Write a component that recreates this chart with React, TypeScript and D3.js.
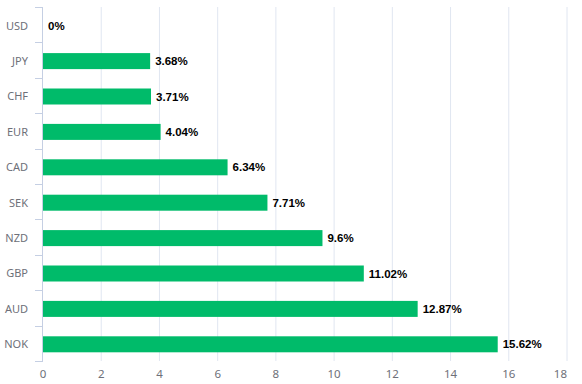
import React from "react";
import * as d3 from "d3";

const categories = ["USD", "JPY", "CHF", "EUR", "CAD", "SEK", "NZD", "GBP", "AUD", "NOK"];
const values = [0, 3.68, 3.71, 4.04, 6.34, 7.71, 9.6, 11.02, 12.87, 15.62];
const xTicks = [0, 2, 4, 6, 8, 10, 12, 14, 16, 18];

const W = 582;
const H = 384;
const left = 43;
const right = 567;
const top = 7;
const bottom = 361;

export default function App() {
  const x = d3.scaleLinear().domain([0, 18]).range([left, right]);
  const y = d3.scaleBand<string>().domain(categories).range([top, bottom]).paddingInner(0).paddingOuter(0);
  const bw = y.bandwidth();
  const barH = 16;
  const font = "'Liberation Sans', Arial, sans-serif";
  const labelFont = "'Noto Sans', 'Liberation Sans', sans-serif";
  return (
    <svg width={W} height={H} style={{ position: "absolute", left: 0, top: 0, background: "#fff" }}>
      {xTicks.map((t) => (
        t === 0 ? null : (
          <line key={"g" + t} x1={x(t)} x2={x(t)} y1={top} y2={bottom} stroke="#e0e6f1" strokeWidth={1} />
        )
      ))}
      <line x1={left - 0.5} x2={left - 0.5} y1={top} y2={bottom} stroke="#c5cfe3" strokeWidth={1} />
      {d3.range(categories.length + 1).map((i) => {
        const yy = Math.round(top + i * bw) + 0.5;
        return <line key={"t" + i} x1={left - 8} x2={left} y1={yy} y2={yy} stroke="#c5cfe3" strokeWidth={1} />;
      })}
      {categories.map((c, i) => {
        const cy = (y(c) as number) + bw / 2;
        return (
          <g key={c}>
            <text x={left - 15} y={cy + 1} dy="0.35em" textAnchor="end" fontFamily={labelFont} fontSize={11} fill="#6e7079">
              {c}
            </text>
            {values[i] > 0 && (
              <rect x={x(0)} y={cy - barH / 2 + 1} width={x(values[i]) - x(0)} height={barH} fill="#00bb6a" />
            )}
            <text x={x(values[i]) + 5} y={cy + 1} dy="0.35em" fontFamily={font} fontSize={11.5} fontWeight="bold" fill="#000">
              {values[i] + "%"}
            </text>
          </g>
        );
      })}
      {xTicks.map((t, i) => (
        <text
          key={"l" + t}
          x={x(t)}
          y={378}
          textAnchor={i === xTicks.length - 1 ? "end" : "middle"}
          fontFamily={labelFont}
          fontSize={11.5}
          fill="#6e7079"
        >
          {t}
        </text>
      ))}
    </svg>
  );
}
